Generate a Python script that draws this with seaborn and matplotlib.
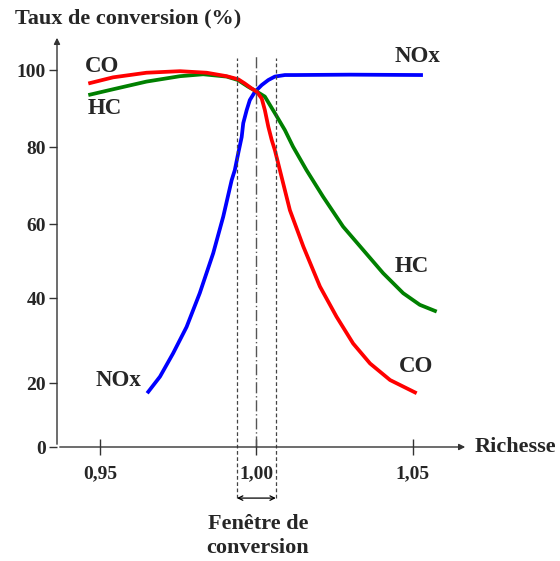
import numpy as np
import pandas as pd
import seaborn as sns
import matplotlib.pyplot as plt

# Values (richesse -> taux de conversion %)
nox_x = [0.9651, 0.9692, 0.9734, 0.9777, 0.9819, 0.9862, 0.9894, 0.9921, 0.9931,
         0.9942, 0.9953, 0.9958, 0.9969, 0.9979, 0.9995, 1.0017, 1.0038, 1.0059,
         1.0091, 1.0123, 1.0299, 1.0532]
nox_y = [16.8, 21.5, 27.0, 33.2, 41.3, 52.1, 61.9, 71.4, 74.0,
         78.4, 82.6, 86.2, 89.6, 92.2, 94.3, 96.1, 97.4, 98.3,
         98.7, 98.7, 98.8, 98.7]

co_x = [0.9463, 0.9542, 0.9649, 0.9756, 0.9841, 0.9905, 0.9942, 0.9963, 0.9985,
        1.0001, 1.0017, 1.0027, 1.0038, 1.0049, 1.0059, 1.0075, 1.0107, 1.0150,
        1.0203, 1.0256, 1.0309, 1.0363, 1.0427, 1.0512]
co_y = [96.5, 98.1, 99.3, 99.7, 99.3, 98.4, 97.6, 96.5, 95.2,
        94.4, 92.6, 89.6, 85.3, 81.8, 79.2, 74.0, 63.6, 53.9,
        43.1, 35.6, 29.3, 24.6, 20.7, 16.8]

hc_x = [0.9463, 0.9542, 0.9649, 0.9756, 0.9830, 0.9905, 0.9941, 0.9973, 1.0001,
        1.0027, 1.0059, 1.0091, 1.0117, 1.0160, 1.0213, 1.0277, 1.0341, 1.0405,
        1.0469, 1.0522, 1.0576]
hc_y = [93.5, 95.0, 97.0, 98.4, 98.9, 98.3, 97.4, 95.7, 94.4,
        93.1, 88.8, 84.4, 80.1, 74.0, 67.1, 59.3, 53.0, 46.7,
        41.3, 38.4, 36.8]

y_ticks = [0, 20, 40, 60, 80, 100]
x_ticks = [0.95, 1.00, 1.05]
x_ticklabels = ["0,95", "1,00", "1,05"]
window = [0.9938, 1.0062]

# uneven spacing of the hand-drawn y axis
tick_pos = [-64, 0, 64, 149, 223, 300, 377, 454]
tick_val = [-20, 0, 20, 40, 60, 80, 100, 120]


def fwd(v):
    return np.interp(v, tick_val, tick_pos)


def inv(p):
    return np.interp(p, tick_pos, tick_val)


sns.set_style("white")
plt.rcParams['font.family'] = ['Liberation Serif', 'DejaVu Serif']
plt.rcParams['font.weight'] = 'bold'

fig = plt.figure(figsize=(5.6, 5.61), dpi=100)
ax = fig.add_axes([57 / 560, 1 - 447 / 561, 411 / 560, 412 / 561])
ax.set_yscale('function', functions=(fwd, inv))

df = pd.concat([
    pd.DataFrame({"x": co_x, "y": co_y, "gaz": "CO"}),
    pd.DataFrame({"x": hc_x, "y": hc_y, "gaz": "HC"}),
    pd.DataFrame({"x": nox_x, "y": nox_y, "gaz": "NOx"}),
])
pal = {"CO": "#ff0000", "HC": "#008000", "NOx": "#0000ff"}
for g in ["NOx", "HC", "CO"]:
    sns.lineplot(data=df[df.gaz == g], x="x", y="y", color=pal[g], lw=2.7,
                 sort=False, estimator=None, ax=ax, legend=False)
for ln in ax.lines:
    ln.set_solid_joinstyle('round')
    ln.set_solid_capstyle('butt')

ax.set_xlim(0.9363, 1.0676)
ax.set_ylim(0, 109.1)
for s in ax.spines.values():
    s.set_visible(False)

# axes with arrow heads
ax.annotate("", xy=(0, 1), xytext=(0, 0), xycoords='axes fraction',
            arrowprops=dict(arrowstyle='-|>', color='#333333', lw=1, mutation_scale=9))
ax.annotate("", xy=(1, 0), xytext=(0, 0), xycoords='axes fraction',
            arrowprops=dict(arrowstyle='-|>', color='#333333', lw=1, mutation_scale=9))

ax.set_yticks(y_ticks)
ax.set_yticklabels([str(t) for t in y_ticks])
ax.set_xticks(x_ticks)
ax.set_xticklabels(x_ticklabels)
ax.tick_params(axis='y', direction='out', length=6, width=1, color='#333333',
               labelsize=14, pad=2, left=True)
ax.tick_params(axis='x', direction='inout', length=12, width=1, color='#333333',
               labelsize=14, pad=7, bottom=True)
for lab in ax.get_xticklabels() + ax.get_yticklabels():
    lab.set_fontweight('bold')
ax.set_xlabel("")
ax.set_ylabel("")

# conversion window
tr = ax.get_xaxis_transform()
for xv in window:
    ax.plot([xv, xv], [-0.124, 0.944], transform=tr, color='#444444', lw=0.9,
            ls=(0, (3, 2)), clip_on=False)
ax.plot([1.0, 1.0], [0, 0.951], transform=tr, color='#555555', lw=1,
        ls=(0, (8, 2, 1, 2)), clip_on=False)
ax.annotate("", xy=(window[0], -0.124), xytext=(window[1], -0.124), xycoords=tr,
            arrowprops=dict(arrowstyle='<->', color='black', lw=0.9,
                            shrinkA=0, shrinkB=0, mutation_scale=8))
ax.text(1.0005, -0.216, "Fenêtre de\nconversion", transform=tr, ha='center',
        va='center', fontsize=16, fontweight='bold', linespacing=1.28)

# series labels
lab_kw = dict(ha='center', va='center', fontsize=16.5, fontweight='bold')
ax.text(0.9507, 100.8, "CO", **lab_kw)
ax.text(0.9517, 90.1, "HC", **lab_kw)
ax.text(1.0516, 103.4, "NOx", **lab_kw)
ax.text(1.0497, 48.4, "HC", **lab_kw)
ax.text(1.0510, 24.0, "CO", **lab_kw)
ax.text(0.9558, 20.5, "NOx", **lab_kw)

fig.text(15 / 560, 1 - 18 / 561, "Taux de conversion (%)", ha='left', va='center',
         fontsize=16, fontweight='bold')
ax.text(1.017, 0, "Richesse", transform=ax.transAxes, ha='left', va='center',
        fontsize=16, fontweight='bold')

fig.savefig("out.png", dpi=100)
